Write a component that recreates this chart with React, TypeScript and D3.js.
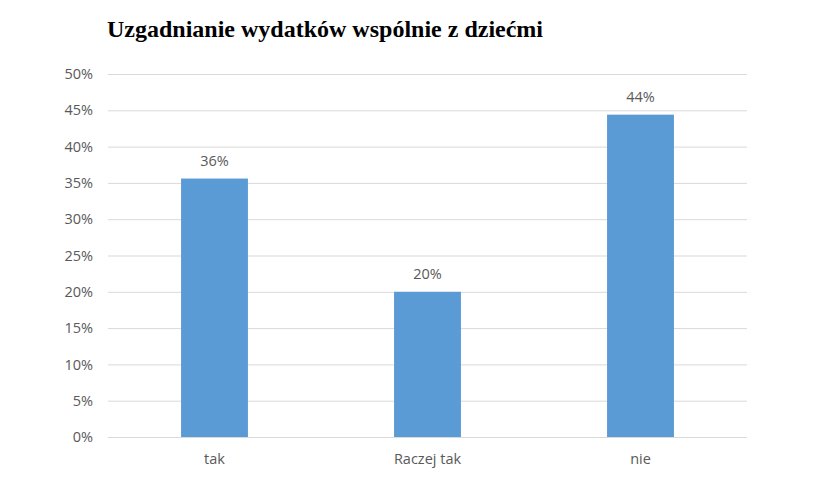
import { useEffect, useMemo, useRef } from 'react';
import * as d3 from 'd3';

const WIDTH = 825;
const HEIGHT = 482;
const MARGIN = { top: 74, right: 78, bottom: 45, left: 108 };

const TITLE = 'Uzgadnianie wydatków wspólnie z dziećmi';
const categories = ['tak', 'Raczej tak', 'nie'];
const values = [35.6, 20.0, 44.4];
const yTicks = [0, 5, 10, 15, 20, 25, 30, 35, 40, 45, 50];

const BAR_COLOR = '#5b9bd5';
const GRID_COLOR = '#d9d9d9';
const TEXT_COLOR = '#595959';
const FONT = '"Open Sans", "Liberation Sans", sans-serif';

export default function App() {
  const axesRef = useRef<SVGGElement>(null);

  const boundsWidth = WIDTH - MARGIN.left - MARGIN.right;
  const boundsHeight = HEIGHT - MARGIN.top - MARGIN.bottom;

  const xScale = useMemo(
    () =>
      d3
        .scaleBand<string>()
        .domain(categories)
        .range([0, boundsWidth])
        .paddingInner(0.686)
        .paddingOuter(0.343),
    [boundsWidth]
  );

  const yScale = useMemo(
    () => d3.scaleLinear().domain([0, 50]).range([boundsHeight, 0]),
    [boundsHeight]
  );

  // eixos + grade
  useEffect(() => {
    const g = d3.select(axesRef.current);
    g.selectAll('*').remove();

    const yAxis = d3
      .axisLeft(yScale)
      .tickValues(yTicks)
      .tickSize(-boundsWidth)
      .tickPadding(15)
      .tickFormat((d) => `${d}%`);

    const ya = g.append('g').call(yAxis);
    ya.select('.domain').remove();
    ya.selectAll('.tick line').attr('stroke', GRID_COLOR).attr('stroke-width', 1);
    ya.selectAll('.tick text')
      .attr('fill', TEXT_COLOR)
      .style('font-family', FONT)
      .style('font-size', '14.5px');

    const xAxis = d3.axisBottom(xScale).tickSize(0).tickPadding(17);
    const xa = g.append('g').attr('transform', `translate(0, ${boundsHeight})`).call(xAxis);
    xa.select('.domain').remove();
    xa.selectAll('.tick text')
      .attr('fill', TEXT_COLOR)
      .style('font-family', FONT)
      .style('font-size', '14.5px');
  }, [xScale, yScale, boundsWidth, boundsHeight]);

  return (
    <svg
      width={WIDTH}
      height={HEIGHT}
      style={{ position: 'fixed', top: 0, left: 0, background: '#ffffff' }}
    >
      <text
        x={107}
        y={37}
        fontFamily='"Liberation Serif", "Times New Roman", serif'
        fontWeight="bold"
        fontSize={24}
        fill="#000000"
      >
        {TITLE}
      </text>

      <g ref={axesRef} transform={`translate(${MARGIN.left}, ${MARGIN.top})`} />

      <g transform={`translate(${MARGIN.left}, ${MARGIN.top})`}>
        {categories.map((c, i) => (
          <g key={c}>
            <rect
              x={xScale(c)}
              y={yScale(values[i])}
              width={xScale.bandwidth()}
              height={boundsHeight - yScale(values[i])}
              fill={BAR_COLOR}
            />
            <text
              x={(xScale(c) ?? 0) + xScale.bandwidth() / 2}
              y={yScale(values[i]) - 13}
              textAnchor="middle"
              fontFamily={FONT}
              fontSize={14.5}
              fill={TEXT_COLOR}
            >
              {`${Math.round(values[i])}%`}
            </text>
          </g>
        ))}
      </g>
    </svg>
  );
}
